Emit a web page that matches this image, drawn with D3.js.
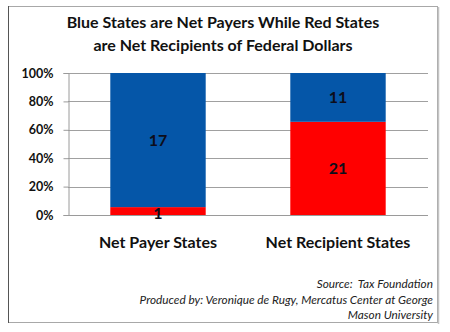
<!DOCTYPE html>
<html>
<head>
<meta charset="utf-8">
<script src="https://cdn.jsdelivr.net/npm/d3@7"></script>
<style>
  html, body { margin: 0; padding: 0; background: #fff; }
  svg { display: block; }
  text { font-family: Lato, "Open Sans", sans-serif; }
</style>
</head>
<body>
<svg id="chart" width="450" height="332"></svg>
<script>
// Number of states in each group, split by colour
const categories = ["Net Payer States", "Net Recipient States"];
const redStates  = [1, 21];
const blueStates = [17, 11];
const yTicks = [0, 0.2, 0.4, 0.6, 0.8, 1.0];
const titleLines = ["Blue States are Net Payers While Red States",
                    "are Net Recipients of Federal Dollars"];
const footnotes = ["Source:  Tax Foundation",
                   "Produced by: Veronique de Rugy, Mercatus Center at George",
                   "Mason University"];

const BLUE = "#0556A8", RED = "#FF0000";

const svg = d3.select("#chart");
const W = 450, H = 332;

// Outer frame
svg.append("rect").attr("x", 0).attr("y", 0).attr("width", W).attr("height", H).attr("fill", "#fff");
svg.append("rect").attr("x", 8.5).attr("y", 6.5).attr("width", 429).attr("height", 316)
  .attr("fill", "#fff").attr("stroke", "#a8a8a8").attr("stroke-width", 1);
svg.append("line").attr("x1", 8.5).attr("x2", 8.5).attr("y1", 6).attr("y2", 323)
  .attr("stroke", "#555").attr("stroke-width", 1);
svg.append("line").attr("x1", 438.5).attr("x2", 438.5).attr("y1", 7).attr("y2", 324)
  .attr("stroke", "#c4c4c4").attr("stroke-width", 1.5);

// Title
svg.append("g").selectAll("text").data(titleLines).join("text")
  .attr("x", 223).attr("y", (d, i) => 28 + i * 23)
  .attr("text-anchor", "middle")
  .attr("font-size", 16).attr("font-weight", "bold").attr("fill", "#111")
  .text(d => d);

const plot = { left: 68, right: 428, top: 73, bottom: 215 };

const x = d3.scaleBand().domain(categories).range([plot.left, plot.right])
  .paddingInner(0.47).paddingOuter(0.235);
const y = d3.scaleLinear().domain([0, 1]).range([plot.bottom, plot.top]);

// Gridlines
svg.append("g").selectAll("line").data(yTicks.filter(d => d > 0)).join("line")
  .attr("x1", plot.left).attr("x2", plot.right)
  .attr("y1", d => Math.round(y(d)) + 0.5).attr("y2", d => Math.round(y(d)) + 0.5)
  .attr("stroke", "#a0a0a0").attr("stroke-width", 1);

// Y axis
const yAxis = d3.axisLeft(y).tickValues(yTicks).tickFormat(d3.format(".0%")).tickSize(5).tickPadding(10);
const gy = svg.append("g").attr("transform", `translate(${plot.left + 0.5},0)`).call(yAxis);
gy.select(".domain").attr("stroke", "#9a9a9a");
gy.selectAll(".tick line").attr("stroke", "#9a9a9a");
gy.selectAll(".tick text").attr("font-family", "Lato, sans-serif").attr("font-size", 12.5)
  .attr("font-weight", "bold").attr("fill", "#111");

// Bottom axis line
svg.append("line").attr("x1", plot.left).attr("x2", plot.right)
  .attr("y1", plot.bottom + 0.5).attr("y2", plot.bottom + 0.5).attr("stroke", "#9a9a9a");

// Stacked bars, as shares of each group's total
const rows = categories.map((c, i) => {
  const total = redStates[i] + blueStates[i];
  return { cat: c, red: redStates[i], blue: blueStates[i], total };
});
const stack = d3.stack().keys(["red", "blue"]).value((d, k) => d[k] / d.total);
const series = stack(rows);
const colors = { red: RED, blue: BLUE };

const g = svg.append("g");
series.forEach(s => {
  g.append("g").attr("fill", colors[s.key]).selectAll("rect").data(s).join("rect")
    .attr("x", d => x(d.data.cat)).attr("width", x.bandwidth())
    .attr("y", d => y(d[1])).attr("height", d => y(d[0]) - y(d[1]));
  g.append("g").selectAll("text").data(s).join("text")
    .attr("x", d => x(d.data.cat) + x.bandwidth() / 2)
    .attr("y", d => (y(d[0]) + y(d[1])) / 2 + (s.key === "red" && d.data.red < 3 ? 7.5 : 5.5))
    .attr("text-anchor", "middle").attr("font-size", 16).attr("font-weight", "bold")
    .attr("fill", "#0d0d1a")
    .text(d => d.data[s.key]);
});

// Category labels
svg.append("g").selectAll("text").data(categories).join("text")
  .attr("x", d => x(d) + x.bandwidth() / 2).attr("y", 248)
  .attr("text-anchor", "middle").attr("font-size", 16).attr("font-weight", "bold").attr("fill", "#111")
  .text(d => d);

// Footnotes
svg.append("g").selectAll("text").data(footnotes).join("text")
  .attr("x", 433).attr("y", (d, i) => 288 + i * 15.5)
  .attr("text-anchor", "end").attr("font-size", 11.8).attr("font-style", "italic").attr("fill", "#222")
  .attr("xml:space", "preserve").style("white-space", "pre")
  .text(d => d);
</script>
</body>
</html>
